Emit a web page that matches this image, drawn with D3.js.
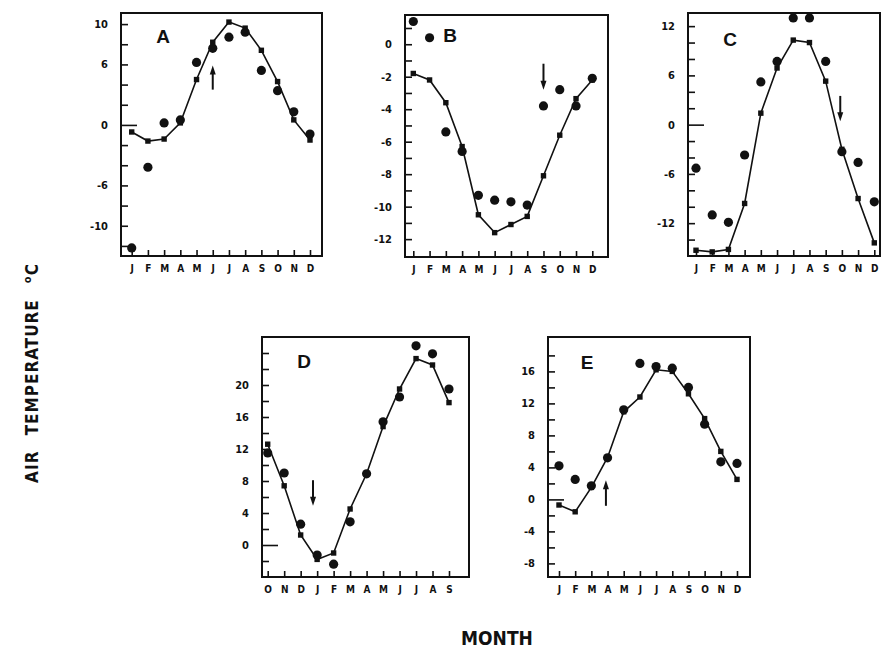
<!DOCTYPE html>
<html>
<head>
<meta charset="utf-8">
<script src="https://cdn.jsdelivr.net/npm/d3@7"></script>
<style>
  body { margin: 0; background: #fff; }
  text { font-family: "Liberation Sans Narrow", "DejaVu Sans Condensed", "Liberation Sans", sans-serif; font-weight: bold; fill: #111; }
</style>
</head>
<body>
<div id="container"></div>
<script>
/* DATA */
const months = ["J", "F", "M", "A", "M", "J", "J", "A", "S", "O", "N", "D"];
const monthsOct = ["O", "N", "D", "J", "F", "M", "A", "M", "J", "J", "A", "S"];

// A
const aLine = [-0.7, -1.6, -1.4, 0.2, 4.5, 8.2, 10.2, 9.6, 7.4, 4.3, 0.5, -1.5];
const aDots = [-12.2, -4.2, 0.2, 0.5, 6.2, 7.6, 8.7, 9.2, 5.4, 3.4, 1.3, -0.9];
const aTicks = [-12, -10, -8, -6, -4, -2, 0, 2, 4, 6, 8, 10];
const aLabels = [-10, -6, 0, 6, 10];
const aArrow = { month: 5, from: 3.5, to: 5.9 };

// B
const bLine = [-1.8, -2.2, -3.6, -6.3, -10.5, -11.6, -11.1, -10.6, -8.1, -5.6, -3.35, -2.2];
const bDots = [1.4, 0.4, -5.4, -6.6, -9.3, -9.6, -9.7, -9.9, -3.8, -2.8, -3.8, -2.1];
const bTicks = [-12, -11, -10, -9, -8, -7, -6, -5, -4, -3, -2, -1, 0, 1];
const bLabels = [-12, -10, -8, -6, -4, -2, 0];
const bArrow = { month: 8, from: -1.2, to: -2.8 };

// C
const cLine = [-15.3, -15.5, -15.2, -9.6, 1.4, 6.9, 10.3, 10.0, 5.3, -3.0, -9.0, -14.4];
const cDots = [-5.3, -11.0, -11.9, -3.7, 5.2, 7.7, 13.0, 13.0, 7.7, -3.3, -4.6, -9.4];
const cTicks = [-14, -12, -10, -8, -6, -4, -2, 0, 2, 4, 6, 8, 10, 12];
const cLabels = [-12, -6, 0, 6, 12];
const cArrow = { month: 8.9, from: 3.5, to: 0.4 };

// D (October to September)
const dLine = [12.6, 7.4, 1.25, -1.8, -1.0, 4.5, 8.9, 14.8, 19.5, 23.3, 22.5, 17.8];
const dDots = [11.5, 9.0, 2.6, -1.25, -2.4, 2.9, 8.9, 15.4, 18.5, 24.9, 23.9, 19.5];
const dTicks = [-2, 0, 2, 4, 6, 8, 10, 12, 14, 16, 18, 20, 22, 24];
const dLabels = [0, 4, 8, 12, 16, 20];
const dArrow = { month: 2.75, from: 8.1, to: 4.9 };

// E
const eLine = [-0.7, -1.55, 1.5, 5.25, 10.95, 12.8, 16.2, 16.0, 13.2, 10.1, 6.0, 2.5];
const eDots = [4.2, 2.5, 1.7, 5.2, 11.2, 17.0, 16.6, 16.4, 14.0, 9.4, 4.7, 4.5];
const eTicks = [-8, -6, -4, -2, 0, 2, 4, 6, 8, 10, 12, 14, 16, 18];
const eLabels = [-8, -4, 0, 4, 8, 12, 16];
const eArrow = { month: 2.9, from: -0.8, to: 2.4 };

/* LAYOUT */
const width = 882, height = 650;

const panels = [
  { name: "A", line: aLine, dots: aDots, ticks: aTicks, labels: aLabels, arrow: aArrow, months: months,
    left: 121, right: 322, top: 13, bottom: 256, x0: 131.7, x1: 310, yDomain: [-13, 11.1], longZero: true, lx: 163, ly: 43 },
  { name: "B", line: bLine, dots: bDots, ticks: bTicks, labels: bLabels, arrow: bArrow, months: months,
    left: 405, right: 608, top: 15, bottom: 257, x0: 413.3, x1: 592.3, yDomain: [-13.1, 1.8], longZero: false, lx: 450, ly: 42 },
  { name: "C", line: cLine, dots: cDots, ticks: cTicks, labels: cLabels, arrow: cArrow, months: months,
    left: 688, right: 880, top: 13, bottom: 256, x0: 696, x1: 874.3, yDomain: [-16, 13.6], longZero: true, lx: 730, ly: 46 },
  { name: "D", line: dLine, dots: dDots, ticks: dTicks, labels: dLabels, arrow: dArrow, months: monthsOct,
    left: 262, right: 469, top: 337, bottom: 577, x0: 267.7, x1: 449, yDomain: [-4, 26], longZero: true, lx: 304, ly: 368 },
  { name: "E", line: eLine, dots: eDots, ticks: eTicks, labels: eLabels, arrow: eArrow, months: months,
    left: 548, right: 750, top: 337, bottom: 577, x0: 559, x1: 737, yDomain: [-9.7, 20.3], longZero: true, lx: 587, ly: 369 }
];

const svg = d3.select("#container")
  .append("svg")
  .attr("width", width)
  .attr("height", height)
  .style("background-color", "#fff")

panels.forEach(p => {
  const xScale = d3.scaleLinear()
    .domain([0, 11])
    .range([p.x0, p.x1])

  const yScale = d3.scaleLinear()
    .domain(p.yDomain)
    .range([p.bottom, p.top])

  const g = svg.append("g").attr("class", "panel")

  // frame
  g.append("rect")
    .attr("x", p.left)
    .attr("y", p.top)
    .attr("width", p.right - p.left)
    .attr("height", p.bottom - p.top)
    .attr("fill", "none")
    .attr("stroke", "#111")
    .attr("stroke-width", 2)

  // y axis
  const yAxis = g.append("g")
    .attr("transform", `translate(${p.left},0)`)
    .call(d3.axisLeft(yScale)
      .tickValues(p.ticks)
      .tickSize(-7)
      .tickPadding(13)
      .tickFormat(d => p.labels.includes(d) ? String(d) : ""))
  yAxis.select(".domain").remove()
  yAxis.selectAll("line").attr("stroke", "#111").attr("stroke-width", 1.6)
  if (p.longZero) yAxis.selectAll(".tick").filter(d => d === 0).select("line").attr("x2", 16)
  yAxis.selectAll("text").style("font-size", "11px").attr("fill", "#111")

  // x axis
  const xAxis = g.append("g")
    .attr("transform", `translate(0,${p.bottom})`)
    .call(d3.axisBottom(xScale)
      .tickValues(d3.range(12))
      .tickSize(-6)
      .tickPadding(9)
      .tickFormat(i => p.months[i]))
  xAxis.select(".domain").remove()
  xAxis.selectAll("line").attr("stroke", "#111").attr("stroke-width", 1.6)
  xAxis.selectAll("text").style("font-size", "10px").attr("fill", "#111")

  // line with squares
  const line = d3.line()
    .x((d, i) => xScale(i))
    .y(d => yScale(d))

  g.append("path")
    .datum(p.line)
    .attr("d", line)
    .attr("fill", "none")
    .attr("stroke", "#111")
    .attr("stroke-width", 1.6)

  g.selectAll(".sq")
    .data(p.line)
    .join("rect")
    .attr("class", "sq")
    .attr("x", (d, i) => xScale(i) - 2.7)
    .attr("y", d => yScale(d) - 2.7)
    .attr("width", 5.4)
    .attr("height", 5.4)
    .attr("fill", "#111")

  // dots
  g.selectAll(".dot")
    .data(p.dots)
    .join("circle")
    .attr("class", "dot")
    .attr("cx", (d, i) => xScale(i))
    .attr("cy", d => yScale(d))
    .attr("r", 4.6)
    .attr("fill", "#111")

  // arrow
  const ax = xScale(p.arrow.month)
  const yFrom = yScale(p.arrow.from), yTo = yScale(p.arrow.to)
  const dir = yTo < yFrom ? -1 : 1
  g.append("line")
    .attr("x1", ax).attr("x2", ax)
    .attr("y1", yFrom).attr("y2", yTo - dir * 7)
    .attr("stroke", "#111")
    .attr("stroke-width", 2)
  g.append("path")
    .attr("d", `M${ax},${yTo} L${ax - 3},${yTo - dir * 9} L${ax + 3},${yTo - dir * 9} Z`)
    .attr("fill", "#111")

  // panel letter
  g.append("text")
    .attr("x", p.lx)
    .attr("y", p.ly)
    .attr("text-anchor", "middle")
    .style("font-family", "'Liberation Sans', Arial, sans-serif")
    .style("font-size", "19px")
    .text(p.name)
})

// axis titles
const yTitle = svg.append("text")
  .attr("transform", "translate(38,373) rotate(-90)")
  .attr("text-anchor", "middle")
  .style("font-size", "17px")
  .style("letter-spacing", "1px")
yTitle.append("tspan").text("AIR")
yTitle.append("tspan").attr("dx", 16).text("TEMPERATURE")
yTitle.append("tspan").attr("dx", 16).attr("dy", -7).style("font-size", "11px").text("o")
yTitle.append("tspan").attr("dy", 7).text("C")

svg.append("text")
  .attr("x", 497)
  .attr("y", 645)
  .attr("text-anchor", "middle")
  .style("font-size", "19px")
  .text("MONTH")
</script>
</body>
</html>
